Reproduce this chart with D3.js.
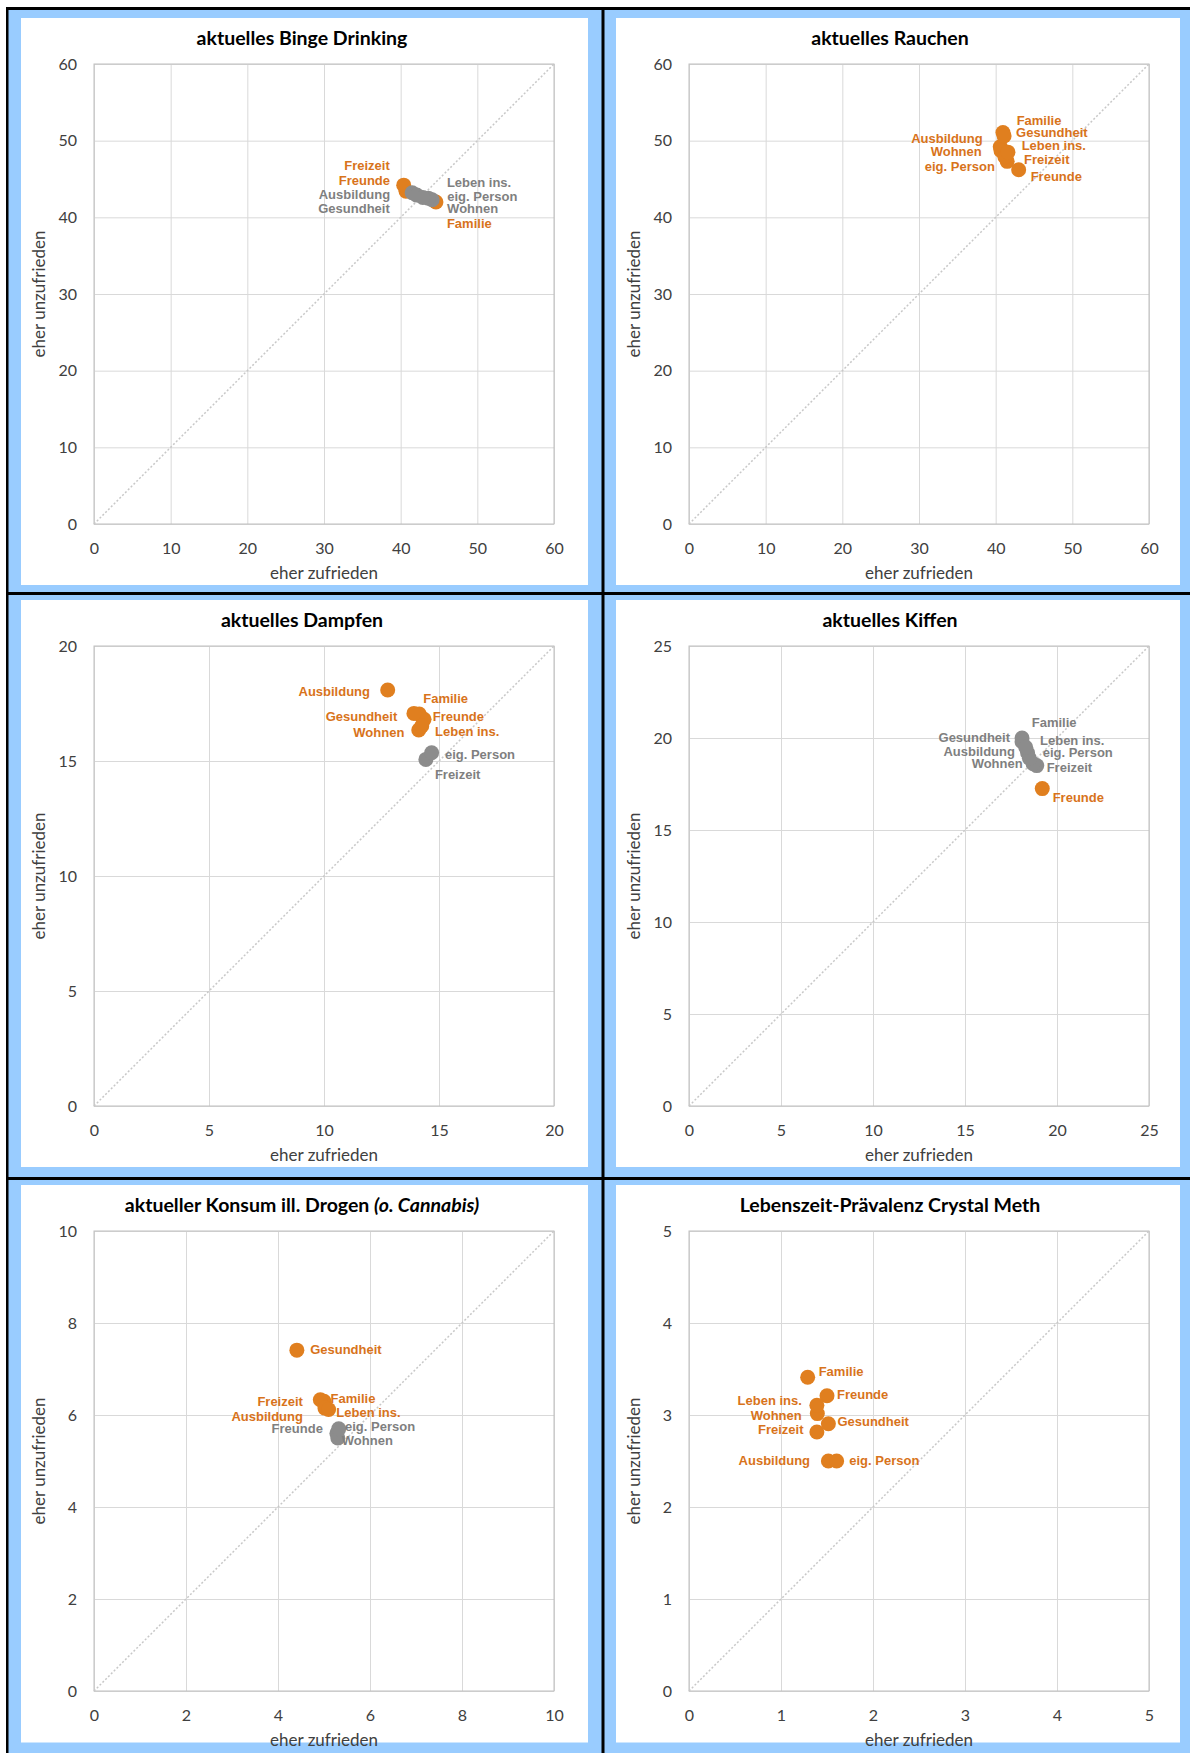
<!DOCTYPE html>
<html>
<head>
<meta charset="utf-8">
<script src="https://cdn.jsdelivr.net/npm/d3@7"></script>
<style>
  body { margin: 0; background: #fff; }
</style>
</head>
<body>
<div id="chart"></div>
<script>
// Life areas (same order in every panel)
const categories = ["Familie", "Freunde", "Freizeit", "Ausbildung", "Gesundheit", "Wohnen", "eig. Person", "Leben ins."];

// x = "eher zufrieden", y = "eher unzufrieden", sig = 1 → orange, 0 → grey
const bingeX = [44.6, 40.7, 40.4, 41.5, 42.1, 44.1, 43.6, 42.9];
const bingeY = [42.0, 43.4, 44.2, 43.2, 42.9, 42.3, 42.5, 42.6];
const bingeSig = [1, 1, 1, 0, 0, 0, 0, 0];

const smokeX = [40.95, 43.0, 41.5, 40.6, 41.1, 40.7, 41.2, 41.6];
const smokeY = [51.05, 46.2, 47.3, 49.2, 50.6, 48.7, 47.9, 48.5];
const smokeSig = [1, 1, 1, 1, 1, 1, 1, 1];

const vapeX = [14.14, 14.35, 14.43, 12.77, 13.91, 14.12, 14.68, 14.25];
const vapeY = [17.04, 16.81, 15.07, 18.09, 17.07, 16.35, 15.36, 16.52];
const vapeSig = [1, 1, 0, 1, 1, 1, 0, 1];

const weedX = [18.1, 19.2, 18.9, 18.4, 18.1, 18.7, 18.5, 18.3];
const weedY = [20.0, 17.25, 18.5, 19.2, 19.8, 18.6, 18.9, 19.5];
const weedSig = [0, 1, 0, 0, 0, 0, 0, 0];

const drugX = [5.0, 5.28, 4.92, 5.02, 4.41, 5.3, 5.32, 5.1];
const drugY = [6.3, 5.6, 6.33, 6.15, 7.41, 5.5, 5.7, 6.12];
const drugSig = [1, 0, 1, 1, 1, 0, 0, 1];

const methX = [1.29, 1.5, 1.39, 1.515, 1.515, 1.395, 1.605, 1.39];
const methY = [3.41, 3.21, 2.815, 2.5, 2.905, 3.015, 2.5, 3.105];
const methSig = [1, 1, 1, 1, 1, 1, 1, 1];

// axis ticks
const ticks60 = [0, 10, 20, 30, 40, 50, 60];
const ticks20 = [0, 5, 10, 15, 20];
const ticks25 = [0, 5, 10, 15, 20, 25];
const ticks10 = [0, 2, 4, 6, 8, 10];
const ticks5 = [0, 1, 2, 3, 4, 5];

// data label offsets in px from the marker [dx, dy] (negative dx → label left of the point)
const labelOffsets = {
  binge: [[11, 26], [-16, -6], [-14, -15], [-22, 6.5], [-27, 18], [15, 13.5], [19, 3], [24, -10.7]],
  smoke: [[13.7, -7.6], [12, 10.7], [16.8, 3], [-17.6, -3.5], [12, 1], [-19.3, 5.4], [-10, 14], [13.7, -2.2]],
  vape: [[4, -10.7], [8.7, 1.7], [9, 20], [-17.7, 6], [-16.7, 7.7], [-14.4, 6.7], [13.3, 6.3], [13.3, 10]],
  weed: [[9.7, -11.3], [10.4, 13.1], [9.9, 6.1], [-12.6, 3], [-12, 0], [-10.4, 4.5], [13.3, -1.5], [14.3, -2.2]],
  drug: [[6.6, 2], [-14, -0.5], [-17.4, 6.5], [-22, 12.4], [13.3, 4], [4, 7.4], [6.3, 2.4], [7.7, 7.8]],
  meth: [[11, -1.7], [10, 3.3], [-13.4, 2.3], [-18.3, 4], [9, 2.7], [-15.6, 6], [12.6, 4], [-15, -0.7]]
};

const panels = [
  { key: "binge", title: "aktuelles Binge Drinking", xs: bingeX, ys: bingeY, sig: bingeSig, ticks: ticks60, col: 0, row: 0 },
  { key: "smoke", title: "aktuelles Rauchen", xs: smokeX, ys: smokeY, sig: smokeSig, ticks: ticks60, col: 1, row: 0 },
  { key: "vape", title: "aktuelles Dampfen", xs: vapeX, ys: vapeY, sig: vapeSig, ticks: ticks20, col: 0, row: 1 },
  { key: "weed", title: "aktuelles Kiffen", xs: weedX, ys: weedY, sig: weedSig, ticks: ticks25, col: 1, row: 1 },
  { key: "drug", title: "aktueller Konsum ill. Drogen ", italic: "(o. Cannabis)", xs: drugX, ys: drugY, sig: drugSig, ticks: ticks10, col: 0, row: 2 },
  { key: "meth", title: "Lebenszeit-Prävalenz Crystal Meth", xs: methX, ys: methY, sig: methSig, ticks: ticks5, col: 1, row: 2 }
];

window.onload = function () {
  const W = 1190, H = 1753;
  const blue = "#99CCFF";
  const orange = "#E07F1F", orangeText = "#D8731B";
  const grey = "#8C8C8C", greyText = "#7F7F7F";
  const axisFont = "Lato, 'Open Sans', sans-serif";
  const labelFont = "'Liberation Sans', Arial, sans-serif";

  // grid of the six cells
  const cols = [
    { white: [21, 588], plot: [94, 554], title: 302 },
    { white: [616, 1180], plot: [689, 1149], title: 890 }
  ];
  const rows = [
    { white: [18, 585], plot: [64, 524] },
    { white: [600, 1167], plot: [646, 1106] },
    { white: [1185, 1742.5], plot: [1231, 1691] }
  ];

  const svg = d3.select("#chart")
    .append("svg")
    .attr("width", W)
    .attr("height", H)
    .style("display", "block");

  // blue frame background + black separators
  svg.append("rect").attr("x", 6).attr("y", 7).attr("width", W - 6).attr("height", H - 7).attr("fill", blue);
  svg.append("rect").attr("x", 6).attr("y", 7).attr("width", W - 6).attr("height", 3).attr("fill", "#000");
  svg.append("rect").attr("x", 6).attr("y", 7).attr("width", 2.5).attr("height", H - 7).attr("fill", "#000");
  svg.append("rect").attr("x", 601.5).attr("y", 7).attr("width", 3).attr("height", H - 7).attr("fill", "#000");
  svg.append("rect").attr("x", 6).attr("y", 592).attr("width", W - 6).attr("height", 3).attr("fill", "#000");
  svg.append("rect").attr("x", 6).attr("y", 1177).attr("width", W - 6).attr("height", 3).attr("fill", "#000");

  panels.forEach((p) => {
    const c = cols[p.col], r = rows[p.row];
    const max = p.ticks[p.ticks.length - 1];

    // white chart area
    svg.append("rect")
      .attr("x", c.white[0]).attr("y", r.white[0])
      .attr("width", c.white[1] - c.white[0]).attr("height", r.white[1] - r.white[0])
      .attr("fill", "#fff");

    const x = d3.scaleLinear().domain([0, max]).range(c.plot);
    const y = d3.scaleLinear().domain([0, max]).range([r.plot[1], r.plot[0]]);
    const pw = c.plot[1] - c.plot[0], ph = r.plot[1] - r.plot[0];

    const g = svg.append("g");

    // grid lines
    g.append("g")
      .attr("transform", `translate(0,${r.plot[1]})`)
      .call(d3.axisBottom(x).tickValues(p.ticks).tickSize(-ph).tickFormat(""))
      .call((s) => s.select(".domain").remove())
      .selectAll("line").attr("stroke", "#D9D9D9");
    g.append("g")
      .attr("transform", `translate(${c.plot[0]},0)`)
      .call(d3.axisLeft(y).tickValues(p.ticks).tickSize(-pw).tickFormat(""))
      .call((s) => s.select(".domain").remove())
      .selectAll("line").attr("stroke", "#D9D9D9");

    // plot border
    g.append("rect")
      .attr("x", c.plot[0]).attr("y", r.plot[0])
      .attr("width", pw).attr("height", ph)
      .attr("fill", "none").attr("stroke", "#BFBFBF");

    // diagonal reference line
    g.append("line")
      .attr("x1", x(0)).attr("y1", y(0))
      .attr("x2", x(max)).attr("y2", y(max))
      .attr("stroke", "#C8C8C8").attr("stroke-width", 1.5)
      .attr("stroke-dasharray", "2,2");

    // tick labels
    const xa = g.append("g")
      .attr("transform", `translate(0,${r.plot[1]})`)
      .call(d3.axisBottom(x).tickValues(p.ticks).tickSize(0).tickPadding(19).tickFormat(d3.format("d")));
    const ya = g.append("g")
      .attr("transform", `translate(${c.plot[0]},0)`)
      .call(d3.axisLeft(y).tickValues(p.ticks).tickSize(0).tickPadding(17).tickFormat(d3.format("d")));
    [xa, ya].forEach((a) => {
      a.select(".domain").remove();
      a.selectAll("text")
        .style("font-family", axisFont)
        .style("font-size", "16px")
        .attr("fill", "#404040");
    });

    // axis titles
    g.append("text")
      .attr("x", (c.plot[0] + c.plot[1]) / 2)
      .attr("y", r.plot[1] + 55)
      .attr("text-anchor", "middle")
      .style("font-family", axisFont)
      .style("font-size", "17px")
      .attr("fill", "#404040")
      .text("eher zufrieden");
    g.append("text")
      .attr("transform", `translate(${c.white[0] + 24},${(r.plot[0] + r.plot[1]) / 2}) rotate(-90)`)
      .attr("text-anchor", "middle")
      .style("font-family", axisFont)
      .style("font-size", "17px")
      .attr("fill", "#404040")
      .text("eher unzufrieden");

    // chart title
    const t = g.append("text")
      .attr("x", c.title)
      .attr("y", r.plot[0] - 19)
      .attr("text-anchor", "middle")
      .style("font-family", axisFont)
      .style("font-size", "19.5px")
      .style("font-weight", "700")
      .attr("fill", "#000");
    t.append("tspan").text(p.title);
    if (p.italic) t.append("tspan").style("font-style", "italic").text(p.italic);

    // points
    const data = categories.map((name, i) => ({
      name: name, vx: p.xs[i], vy: p.ys[i], sig: p.sig[i], off: labelOffsets[p.key][i]
    }));

    g.selectAll("circle.pt")
      .data(data)
      .enter()
      .append("circle")
      .attr("class", "pt")
      .attr("cx", (d) => x(d.vx))
      .attr("cy", (d) => y(d.vy))
      .attr("r", 7.5)
      .attr("fill", (d) => (d.sig ? orange : grey));

    g.selectAll("text.lbl")
      .data(data)
      .enter()
      .append("text")
      .attr("class", "lbl")
      .attr("x", (d) => x(d.vx) + d.off[0])
      .attr("y", (d) => y(d.vy) + d.off[1])
      .attr("text-anchor", (d) => (d.off[0] < 0 ? "end" : "start"))
      .style("font-family", labelFont)
      .style("font-size", "13px")
      .style("font-weight", "700")
      .attr("fill", (d) => (d.sig ? orangeText : greyText))
      .text((d) => d.name);
  });
};
</script>
</body>
</html>
